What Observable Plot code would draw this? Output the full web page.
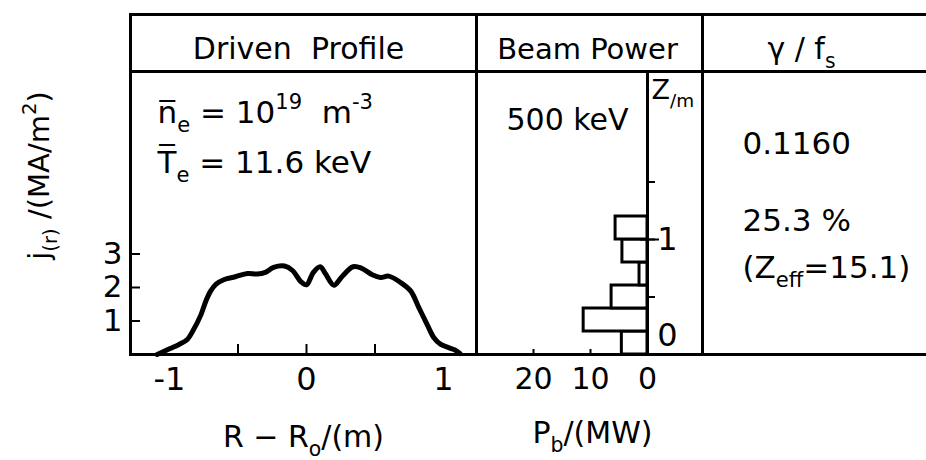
<!DOCTYPE html>
<html>
<head>
<meta charset="utf-8">
<script src="https://cdn.jsdelivr.net/npm/d3@7"></script>
<script src="https://cdn.jsdelivr.net/npm/@observablehq/plot@0.6"></script>
<style>
  html, body { margin: 0; padding: 0; background: white; }
  #chart { position: relative; width: 926px; height: 460px; background: white; }
</style>
</head>
<body>
<div id="chart"></div>
<script>
// Driven current density profile j(r) against R - R0 (m)
const rPos = [-1.09, -1.0, -0.93, -0.87, -0.83, -0.77, -0.735, -0.70, -0.66, -0.60, -0.52, -0.43, -0.36, -0.30, -0.24, -0.16, -0.10, -0.04, 0.0, 0.05, 0.10, 0.14, 0.20, 0.26, 0.34, 0.40, 0.48, 0.54, 0.60, 0.69, 0.76, 0.82, 0.88, 0.93, 0.98, 1.04, 1.08, 1.12];
const jCur = [0.0, 0.17, 0.30, 0.45, 0.70, 1.19, 1.59, 1.89, 2.10, 2.24, 2.32, 2.42, 2.40, 2.45, 2.60, 2.64, 2.50, 2.17, 2.08, 2.45, 2.62, 2.40, 2.07, 2.33, 2.62, 2.58, 2.38, 2.30, 2.34, 2.14, 1.90, 1.40, 0.90, 0.50, 0.30, 0.20, 0.14, 0.03];

// Beam power deposition (MW) in height bins z (m)
const zEdges = [0, 0.2, 0.4, 0.6, 0.8, 1.0, 1.2];
const beamPower = [4.5, 11.2, 6.3, 1.4, 4.4, 5.6];

// Ticks and tick labels
const jTicks = [1, 2, 3];
const rTicks = [-1, 0, 1];
const rTickLabels = ["-1", "0", "1"];
const rMinorTicks = [-0.5, 0, 0.5];
const pTicks = [20, 10, 0];
const pMinorTicks = [20, 10];
const zTicks = [0.5, 1, 1.5];
const zMajorTick = [1];

const profile = rPos.map((r, i) => ({r, j: jCur[i]}));
const bins = beamPower.map((p, i) => ({z0: zEdges[i], z1: zEdges[i + 1], p}));

// Layout (pixels)
const W = 926, H = 460;
const TOP = 14, HEAD = 71, BASE = 354;
const COL = [130, 476, 702, 926];
const FONT = "DejaVu Sans";

// Panel 1 scale: R - R0 = 0 at x=306, 137 px per metre; j = 0 at BASE, 33.5 px per MA/m2
const R0PX = 306, RPX = 137, JPX = 33.5;
const rDomain = [(COL[0] - R0PX) / RPX, (COL[1] - R0PX) / RPX];
const jDomain = [0, (BASE - TOP) / JPX];
const jHead = (BASE - HEAD) / JPX;

// Panel 2 scale: P = 0 at x=647, 5.7 px per MW (reversed); z = 0 at BASE, 115 px per metre
const P0PX = 647, PPX = 5.7, ZPX = 115;
const pDomain = [(P0PX - COL[1]) / PPX, (P0PX - COL[2]) / PPX];
const zDomain = [0, (BASE - TOP) / ZPX];
const zHead = (BASE - HEAD) / ZPX;

const container = document.getElementById("chart");

// Turns _{..} and ^{..} into subscript / superscript tspans
function typeset(svg) {
  const NS = "http://www.w3.org/2000/svg";
  svg.querySelectorAll("text").forEach(t => {
    const src = t.textContent;
    t.style.whiteSpace = "pre";
    if (!/[_^]\{/.test(src)) return;
    const fs = parseFloat(getComputedStyle(t).fontSize);
    t.textContent = "";
    let offset = 0;
    const push = (str, kind) => {
      if (!str) return;
      const ts = document.createElementNS(NS, "tspan");
      const target = kind === "_" ? 0.3 * fs : kind === "^" ? -0.42 * fs : 0;
      if (target !== offset) { ts.setAttribute("dy", target - offset); offset = target; }
      if (kind) ts.setAttribute("font-size", 0.68 * fs);
      ts.textContent = str;
      t.appendChild(ts);
    };
    const re = /([_^])\{([^}]*)\}/g;
    let last = 0, m;
    while ((m = re.exec(src))) {
      push(src.slice(last, m.index), null);
      push(m[2], m[1]);
      last = re.lastIndex;
    }
    push(src.slice(last), null);
  });
}

function layer(options) {
  const svg = Plot.plot({
    width: W,
    height: H,
    marginTop: TOP,
    marginBottom: H - BASE,
    style: {background: "transparent", fontFamily: FONT, overflow: "visible", color: "black"},
    ...options
  });
  svg.style.position = "absolute";
  svg.style.left = "0px";
  svg.style.top = "0px";
  container.append(svg);
  typeset(svg);
}

// Panel 1: driven profile
layer({
  marginLeft: COL[0],
  marginRight: W - COL[1],
  x: {domain: rDomain, axis: null},
  y: {domain: jDomain, axis: null},
  marks: [
    Plot.frame({strokeWidth: 3}),
    Plot.ruleY([jHead], {strokeWidth: 3}),
    Plot.line(profile, {x: "r", y: "j", strokeWidth: 5, curve: "catmull-rom", strokeLinejoin: "round", strokeLinecap: "round"}),
    Plot.ruleX(rMinorTicks, {y1: 0, y2: 10 / JPX, strokeWidth: 2}),
    Plot.ruleY(jTicks, {x1: rDomain[0], x2: rDomain[0] + 10 / RPX, strokeWidth: 2}),
    Plot.text(jTicks, {y: d => d, frameAnchor: "left", dx: -8, textAnchor: "end", lineAnchor: "middle", fontSize: 31}),
    Plot.text(rTicks, {x: d => d, text: (d, i) => rTickLabels[i], frameAnchor: "bottom", dy: 35, textAnchor: "middle", lineAnchor: "bottom", fontSize: 32}),
    Plot.text(["Driven  Profile"], {frameAnchor: "top", dx: -5, dy: 44, textAnchor: "middle", lineAnchor: "bottom", fontSize: 30, letterSpacing: 2}),
    Plot.text(["n\u0305_{e} = 10^{19}  m^{-3}"], {frameAnchor: "top-left", dx: 27, dy: 108, textAnchor: "start", lineAnchor: "bottom", fontSize: 31}),
    Plot.text(["T\u0305_{e} = 11.6 keV"], {frameAnchor: "top-left", dx: 27, dy: 158, textAnchor: "start", lineAnchor: "bottom", fontSize: 31}),
    Plot.text(["R \u2212 R_{o}/(m)"], {frameAnchor: "bottom", dy: 92, textAnchor: "middle", lineAnchor: "bottom", fontSize: 30, letterSpacing: 2}),
    Plot.text(["j_{(r)} /(MA/m^{2})"], {frameAnchor: "left", dx: 48 - COL[0], dy: -9, rotate: -90, textAnchor: "middle", lineAnchor: "bottom", fontSize: 29, letterSpacing: 1.5})
  ]
});

// Panel 2: beam power against height
layer({
  marginLeft: COL[1],
  marginRight: W - COL[2],
  x: {domain: pDomain, axis: null},
  y: {domain: zDomain, axis: null},
  marks: [
    Plot.frame({strokeWidth: 3}),
    Plot.ruleY([zHead], {strokeWidth: 3}),
    Plot.rect(bins, {x1: 0, x2: "p", y1: "z0", y2: "z1", fill: "white", stroke: "black", strokeWidth: 3}),
    Plot.ruleX([0], {y1: 0, y2: zHead, strokeWidth: 3}),
    Plot.ruleY(zTicks, {x1: 0, x2: -8 / PPX, strokeWidth: 2}),
    Plot.ruleY(zMajorTick, {x1: 7 / PPX, x2: -12 / PPX, strokeWidth: 2}),
    Plot.ruleX(pMinorTicks, {y1: 0, y2: 5 / ZPX, strokeWidth: 2}),
    Plot.text(["1"], {x: 0, y: 1, dx: 20, textAnchor: "middle", lineAnchor: "middle", fontSize: 32}),
    Plot.text(["0"], {x: 0, y: 0, dx: 20, dy: -9, textAnchor: "middle", lineAnchor: "bottom", fontSize: 32}),
    Plot.text(["Z_{/m}"], {frameAnchor: "top-left", dx: 175, dy: 84, textAnchor: "start", lineAnchor: "bottom", fontSize: 27}),
    Plot.text(pTicks, {x: d => d, frameAnchor: "bottom", dy: 34, textAnchor: "middle", lineAnchor: "bottom", fontSize: 30}),
    Plot.text(["Beam Power"], {frameAnchor: "top", dx: -2, dy: 44, textAnchor: "middle", lineAnchor: "bottom", fontSize: 29, letterSpacing: 1}),
    Plot.text(["500 keV"], {frameAnchor: "top-left", dx: 91, dy: 115, textAnchor: "middle", lineAnchor: "bottom", fontSize: 30}),
    Plot.text(["P_{b}/(MW)"], {frameAnchor: "bottom", dy: 88, dx: 3, textAnchor: "middle", lineAnchor: "bottom", fontSize: 30, letterSpacing: 2})
  ]
});

// Panel 3: efficiency and Zeff
layer({
  marginLeft: COL[2],
  marginRight: 0,
  x: {domain: [0, 1], axis: null},
  y: {domain: [0, 1], axis: null},
  marks: [
    Plot.ruleY([0, (BASE - HEAD) / (BASE - TOP), 1], {strokeWidth: 3}),
    Plot.ruleX([0], {strokeWidth: 3}),
    Plot.text(["\u03b3 / f_{s}"], {frameAnchor: "top-left", dx: 99, dy: 44, textAnchor: "middle", lineAnchor: "bottom", fontSize: 30}),
    Plot.text(["0.1160"], {frameAnchor: "top-left", dx: 40, dy: 139, textAnchor: "start", lineAnchor: "bottom", fontSize: 31, letterSpacing: 1.5}),
    Plot.text(["25.3 %"], {frameAnchor: "top-left", dx: 40, dy: 216, textAnchor: "start", lineAnchor: "bottom", fontSize: 31, letterSpacing: 1.5}),
    Plot.text(["(Z_{eff}=15.1)"], {frameAnchor: "top-left", dx: 40, dy: 263, textAnchor: "start", lineAnchor: "bottom", fontSize: 31})
  ]
});
</script>
</body>
</html>
